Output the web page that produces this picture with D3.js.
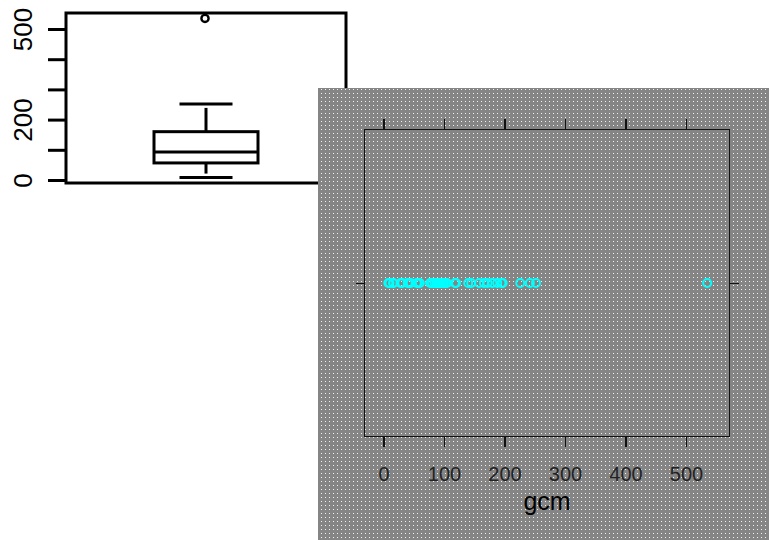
<!DOCTYPE html>
<html>
<head>
<meta charset="utf-8">
<script src="https://cdn.jsdelivr.net/npm/d3@7"></script>
<style>
  body { margin: 0; background: #fff; }
  text { font-family: "Liberation Sans", Arial, Helvetica, sans-serif; }
</style>
</head>
<body>
<div id="chart"></div>
<script>
// gcm values
var gcm = [8, 10, 16, 16, 28, 31, 40, 42, 45, 55,
           57, 60, 77, 80, 84, 87, 88, 90, 91, 92,
           94, 97, 100, 103, 105, 118, 120, 140, 145, 158,
           166, 172, 180, 188, 195, 197, 226, 242, 252, 535];

// box plot y ticks and which of them got a label
var boxTicks = [0, 100, 200, 300, 400, 500];
var boxLabels = [0, 200, 500];

// strip plot x ticks
var stripTicks = [0, 100, 200, 300, 400, 500];

var W = 769, H = 540;

var svg = d3.select("#chart").append("svg")
    .attr("width", W)
    .attr("height", H);

// ---- box plot (top left) ----
var sorted = gcm.slice().sort(d3.ascending);
var q1 = d3.quantile(sorted, 0.25),
    med = d3.quantile(sorted, 0.5),
    q3 = d3.quantile(sorted, 0.75),
    iqr = q3 - q1;
var inside = sorted.filter(function (d) { return d >= q1 - 1.5 * iqr && d <= q3 + 1.5 * iqr; });
var wlo = d3.min(inside), whi = d3.max(inside);
var outliers = sorted.filter(function (d) { return d < wlo || d > whi; });

var by = d3.scaleLinear().domain([0, 500]).range([180, 29]);
var bx = d3.scaleBand().domain(["gcm"]).range([66, 346]);
var cx = bx("gcm") + bx.bandwidth() / 2;
var boxW = 104, capW = 53;

var bp = svg.append("g")
    .attr("stroke", "#000")
    .attr("stroke-width", 3)
    .attr("fill", "none");

// frame
bp.append("rect")
    .attr("x", 66).attr("y", 13)
    .attr("width", 280).attr("height", 170);

// y axis
var yAxis = d3.axisLeft(by)
    .tickValues(boxTicks)
    .tickSize(18)
    .tickFormat(function (d) { return boxLabels.indexOf(d) >= 0 ? d : ""; });

var ya = svg.append("g")
    .attr("transform", "translate(66,0)")
    .call(yAxis);
ya.select(".domain").remove();
ya.selectAll(".tick line").attr("stroke", "#000").attr("stroke-width", 3);
ya.selectAll(".tick text")
    .attr("x", null).attr("dy", null)
    .attr("transform", "translate(-34,0) rotate(-90)")
    .attr("text-anchor", "middle")
    .attr("fill", "#000")
    .style("font-size", "26px");

// whiskers (dash ends just short of the cap)
bp.append("line")
    .attr("x1", cx).attr("x2", cx)
    .attr("y1", by(q3)).attr("y2", by(whi) + 4);
bp.append("line")
    .attr("x1", cx).attr("x2", cx)
    .attr("y1", by(q1)).attr("y2", by(wlo) - 4);
[wlo, whi].forEach(function (v) {
  bp.append("line")
      .attr("x1", cx - capW / 2).attr("x2", cx + capW / 2)
      .attr("y1", by(v)).attr("y2", by(v));
});

// box and median
bp.append("rect")
    .attr("x", cx - boxW / 2)
    .attr("y", by(q3))
    .attr("width", boxW)
    .attr("height", by(q1) - by(q3));
bp.append("line")
    .attr("x1", cx - boxW / 2).attr("x2", cx + boxW / 2)
    .attr("y1", by(med)).attr("y2", by(med));

bp.selectAll(".out")
    .data(outliers)
    .enter().append("circle")
    .attr("class", "out")
    .attr("cx", cx - 1)
    .attr("cy", function (d) { return by(d); })
    .attr("r", 3.6)
    .attr("stroke-width", 2.4);

// ---- strip plot viewport (bottom right, stippled grey) ----
var defs = svg.append("defs");
var pat = defs.append("pattern")
    .attr("id", "stipple")
    .attr("patternUnits", "userSpaceOnUse")
    .attr("width", 4).attr("height", 4);
pat.append("rect").attr("width", 4).attr("height", 4).attr("fill", "#858585");
pat.append("rect").attr("x", 1).attr("y", 1).attr("width", 1).attr("height", 1).attr("fill", "#f2f2f2");

svg.append("rect")
    .attr("x", 318).attr("y", 88)
    .attr("width", W - 318).attr("height", H - 88)
    .attr("fill", "url(#stipple)");

var sx = d3.scaleLinear().domain([0, 500]).range([383.5, 686]);
var pL = 364.5, pR = 729.5, pT = 129.5, pB = 436.5;
var sy = d3.scalePoint().domain(["gcm"]).range([283.5, 283.5]);
var ink = "#111";

var sp = svg.append("g").attr("shape-rendering", "crispEdges");

sp.append("rect")
    .attr("x", pL).attr("y", pT)
    .attr("width", pR - pL).attr("height", pB - pT)
    .attr("fill", "none")
    .attr("stroke", ink)
    .attr("stroke-width", 1.5);

// bottom axis with labels
var xb = sp.append("g")
    .attr("transform", "translate(0," + pB + ")")
    .call(d3.axisBottom(sx).tickValues(stripTicks).tickSize(10).tickPadding(20));
xb.select(".domain").remove();
xb.selectAll(".tick line").attr("stroke", ink).attr("stroke-width", 1.5);
xb.selectAll(".tick text")
    .attr("fill", "#222")
    .style("font-size", "20px");

// top axis, ticks only
var xt = sp.append("g")
    .attr("transform", "translate(0," + pT + ")")
    .call(d3.axisTop(sx).tickValues(stripTicks).tickSize(11).tickFormat(""));
xt.select(".domain").remove();
xt.selectAll(".tick line").attr("stroke", ink).attr("stroke-width", 1.5);

// y ticks on both sides
sp.append("line")
    .attr("x1", pL - 9).attr("x2", pL)
    .attr("y1", sy("gcm")).attr("y2", sy("gcm"))
    .attr("stroke", ink).attr("stroke-width", 1.5);
sp.append("line")
    .attr("x1", pR).attr("x2", pR + 9)
    .attr("y1", sy("gcm")).attr("y2", sy("gcm"))
    .attr("stroke", ink).attr("stroke-width", 1.5);

// points
svg.append("g").selectAll(".pt")
    .data(gcm)
    .enter().append("circle")
    .attr("class", "pt")
    .attr("cx", function (d) { return sx(d); })
    .attr("cy", sy("gcm") - 0.5)
    .attr("r", 4)
    .attr("fill", "none")
    .attr("stroke", "#00ffff")
    .attr("stroke-width", 2);

// axis title
svg.append("text")
    .attr("x", (pL + pR) / 2)
    .attr("y", 510)
    .attr("text-anchor", "middle")
    .attr("fill", "#000")
    .style("font-size", "25px")
    .text("gcm");
</script>
</body>
</html>
